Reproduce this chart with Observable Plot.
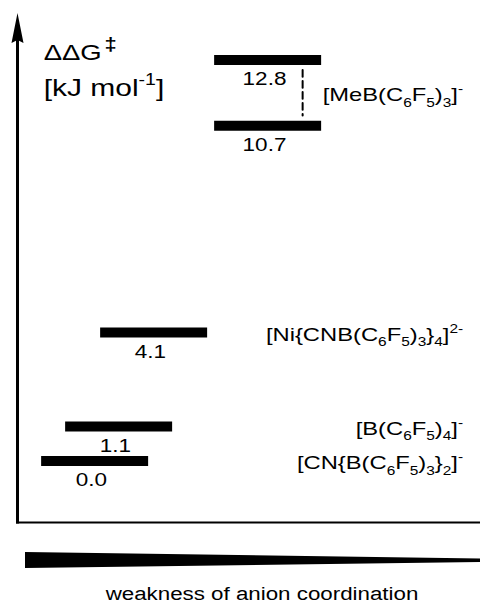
<!DOCTYPE html>
<html>
<head>
<meta charset="utf-8">
<script src="https://cdn.jsdelivr.net/npm/d3@7"></script>
<script src="https://cdn.jsdelivr.net/npm/@observablehq/plot@0.6"></script>
<style>
  html, body { margin: 0; padding: 0; background: #fff; }
  #wrap { position: relative; width: 480px; height: 603px; overflow: hidden; font-family: "Liberation Sans", Arial, sans-serif; }
  #chart { position: absolute; left: 0; top: 0; }
  #wedge { position: absolute; left: 0; top: 0; width: 480px; height: 603px; background: #000;
           clip-path: polygon(25px 552px, 480px 558.5px, 480px 562px, 25px 568px); }
  #caption { position: absolute; left: 261.5px; top: 584.5px; font-size: 18px; line-height: 18px; white-space: nowrap;
             color: #000; transform: translate(-50%, 0) scaleX(1.24); }
</style>
</head>
<body>
<div id="wrap">
  <div id="chart"></div>
  <div id="wedge"></div>
  <div id="caption"></div>
</div>
<script>
// ---------------- data ----------------
const anions = [
  "[CN{B(C_6F_5)_3}_2]^-",
  "[B(C_6F_5)_4]^-",
  "[Ni{CNB(C_6F_5)_3}_4]^{2-}",
  "[MeB(C_6F_5)_3]^-"
];
const levelValues = [0.0, 1.1, 4.1, 10.7, 12.8];   // ΔΔG‡ in kJ/mol
const levelAnion  = [0, 1, 2, 3, 3];               // index into anions
const yAxisLabel  = ["ΔΔG^‡", "[kJ mol^{-1}]"];
const xAxisLabel  = "weakness of anion coordination";

// ---------------- layout (style, not data) ----------------
const S = 1.25;                 // horizontal stretch of the figure
const W = 480 / S, H = 524;
const mL = 14, mT = 13, mB = 1.5, mR = 0;
const slotRange = [94, 118, 153, 267].map(v => v / S);  // schematic placement of anion slots
const barW = 107 / S, barH = 10;

const fmt = d3.format(".1f");
const levels = levelValues.map((v, i) => ({dG: v, slot: levelAnion[i]}));
const labels = anions.map((a, i) => ({
  anion: a, slot: i,
  y: d3.mean(levels.filter(l => l.slot === i), l => l.dG)
}));
const pairs = d3.groups(levels, l => l.slot)
  .filter(([, ls]) => ls.length > 1)
  .map(([slot, ls]) => ({slot, lo: d3.min(ls, l => l.dG), hi: d3.max(ls, l => l.dG)}));

const barSymbol = {
  draw(ctx) {
    ctx.moveTo(-barW / 2, -barH / 2);
    ctx.lineTo(barW / 2, -barH / 2);
    ctx.lineTo(barW / 2, barH / 2);
    ctx.lineTo(-barW / 2, barH / 2);
    ctx.closePath();
  }
};

const axes = () => {
  const g = d3.create("svg:g");
  const yb = H - mB;
  g.append("line").attr("x1", mL - 1.2).attr("x2", W).attr("y1", yb).attr("y2", yb)
    .attr("stroke", "black").attr("stroke-width", 2);
  g.append("line").attr("x1", mL).attr("x2", mL).attr("y1", yb + 1).attr("y2", mT + 26)
    .attr("stroke", "black").attr("stroke-width", 2.4);
  g.append("path")
    .attr("d", `M${mL},${mT}L${mL + 4.8},${mT + 30}L${mL},${mT + 27}L${mL - 4.8},${mT + 30}Z`)
    .attr("fill", "black");
  return g.node();
};

const svg = Plot.plot({
  width: W,
  height: H,
  marginLeft: mL, marginRight: mR, marginTop: mT, marginBottom: mB,
  style: {fontFamily: "'Liberation Sans', Arial, sans-serif", background: "transparent", color: "black"},
  x: {type: "linear", domain: [0, 1, 2, 3], range: slotRange, axis: null},
  y: {type: "linear", domain: [-1.98, 14.28], axis: null},
  marks: [
    axes,
    Plot.dot(levels, {x: "slot", y: "dG", symbol: barSymbol, fill: "black", stroke: "none"}),
    Plot.text(levels, {x: "slot", y: "dG", text: d => fmt(d.dG), dy: 19.5, dx: -2.5, fontSize: 18, fill: "black"}),
    Plot.arrow(pairs, {x1: "slot", x2: "slot", y1: "hi", y2: "lo", dx: 28, stroke: "black", strokeWidth: 1.6,
                       strokeDasharray: "7,4", inset: 10, headLength: 0}),
    Plot.text(labels, {y: "y", text: "anion", frameAnchor: "right", textAnchor: "end", dx: -14, dy: 2,
                       fontSize: 19, fill: "black"}),
    Plot.text([yAxisLabel[0]], {text: d => d, frameAnchor: "top-left", textAnchor: "start", dx: 20.4, dy: 31,
                                fontSize: 22, fill: "black"}),
    Plot.text([yAxisLabel[1]], {text: d => d, frameAnchor: "top-left", textAnchor: "start", dx: 20.4, dy: 65,
                                fontSize: 24, fill: "black"})
  ]
});

svg.setAttribute("width", 480);
svg.setAttribute("height", H);
svg.setAttribute("viewBox", `0 0 ${W} ${H}`);
svg.setAttribute("preserveAspectRatio", "none");
svg.style.width = "480px";
svg.style.height = H + "px";
svg.style.maxWidth = "none";
document.getElementById("chart").appendChild(svg);
document.getElementById("caption").textContent = xAxisLabel;

// rich text: _x subscript, ^x / ^{..} superscript
const svgns = "http://www.w3.org/2000/svg";
function richify(el) {
  const s = el.textContent;
  if (!/[_^]/.test(s)) return;
  const fs = parseFloat(getComputedStyle(el).fontSize) || 18;
  const tokens = [];
  let i = 0, buf = "";
  while (i < s.length) {
    const c = s[i];
    if (c === "_" || c === "^") {
      if (buf) tokens.push({t: buf, m: 0});
      buf = "";
      let t;
      if (s[i + 1] === "{") { const j = s.indexOf("}", i + 2); t = s.slice(i + 2, j); i = j + 1; }
      else { t = s[i + 1]; i += 2; }
      tokens.push({t, m: c === "_" ? -1 : 1});
    } else { buf += c; i++; }
  }
  if (buf) tokens.push({t: buf, m: 0});
  while (el.firstChild) el.removeChild(el.firstChild);
  let cur = 0;
  for (const tok of tokens) {
    const ts = document.createElementNS(svgns, "tspan");
    const big = tok.t === "‡";
    const shift = tok.m === -1 ? 0.3 * fs : tok.m === 1 ? (big ? -0.45 : -0.42) * fs : 0;
    ts.setAttribute("dy", shift - cur);
    cur = shift;
    if (tok.m) ts.setAttribute("font-size", (big ? 0.8 : 0.65) * fs);
    if (big) { ts.setAttribute("font-weight", "bold"); ts.setAttribute("dx", 0.1 * fs); }
    ts.textContent = tok.t;
    el.appendChild(ts);
  }
}
svg.querySelectorAll("text").forEach(richify);
</script>
</body>
</html>
